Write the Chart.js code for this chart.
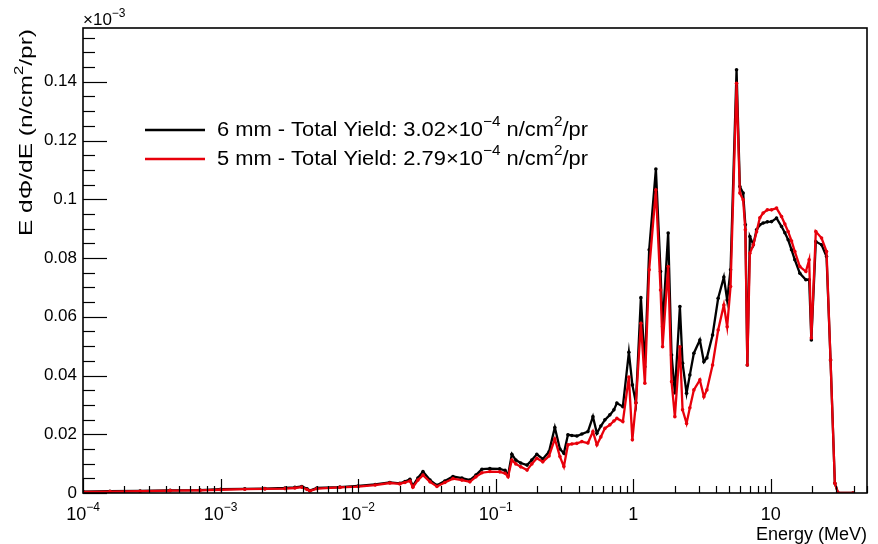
<!DOCTYPE html>
<html>
<head>
<meta charset="utf-8">
<script src="https://cdn.jsdelivr.net/npm/chart.js@4.4.0/dist/chart.umd.min.js"></script>
<style>
  html, body { margin: 0; padding: 0; background: #fff; }
</style>
</head>
<body>
<canvas id="spectrum" width="878" height="544"></canvas>
<script>
// Neutron spectrum, E dPhi/dE (x1e-3 n/cm2/pr) vs energy (MeV)
const energies = [1.0e-4, 1.57e-4, 2.6e-4, 4.3e-4, 7.1e-4, 1.0e-3, 1.5e-3, 2.1e-3, 2.94e-3, 3.47e-3,
  3.9e-3, 4.25e-3, 4.46e-3, 5.02e-3, 7.37e-3, 1.0e-2, 1.33e-2, 1.70e-2, 2.01e-2, 2.19e-2,
  2.38e-2, 2.50e-2, 2.72e-2, 2.96e-2, 3.33e-2, 3.74e-2, 4.27e-2, 4.89e-2, 5.68e-2, 6.49e-2,
  7.18e-2, 7.94e-2, 9.07e-2, 0.107, 0.117, 0.123, 0.131, 0.140, 0.152, 0.169,
  0.183, 0.199, 0.220, 0.244, 0.269, 0.293, 0.313, 0.335, 0.358, 0.389,
  0.423, 0.468, 0.509, 0.544, 0.581, 0.622, 0.676, 0.723, 0.760, 0.840,
  0.929, 0.985, 1.045, 1.136, 1.214, 1.305, 1.460, 1.579, 1.633, 1.793,
  1.898, 2.006, 2.182, 2.282, 2.440, 2.578, 2.757, 3.048, 3.260, 3.427,
  3.771, 4.140, 4.554, 4.813, 5.095, 5.633, 5.953, 6.290, 6.527, 6.749,
  7.038, 7.461, 7.872, 8.319, 8.790, 9.432, 10.12, 11.00, 11.96, 12.64,
  13.36, 14.14, 14.94, 16.25, 17.97, 18.99, 19.70, 21.23, 23.37, 25.40,
  27.16, 29.19, 30.84, 39.63];

const flux6mm = [0.0005, 0.0006, 0.0007, 0.0009, 0.0010, 0.0013, 0.0014, 0.0015, 0.0017, 0.0019,
  0.0022, 0.0014, 0.0008, 0.0017, 0.0020, 0.0024, 0.0029, 0.0036, 0.0033, 0.0039,
  0.0047, 0.0024, 0.0051, 0.0073, 0.0044, 0.0026, 0.0041, 0.0056, 0.0051, 0.0044,
  0.0061, 0.0081, 0.0083, 0.0082, 0.0077, 0.0061, 0.0132, 0.0112, 0.0102, 0.0095,
  0.0112, 0.0132, 0.0116, 0.0140, 0.0223, 0.0150, 0.0135, 0.0198, 0.0196, 0.0194,
  0.0201, 0.0209, 0.0260, 0.0203, 0.0228, 0.0249, 0.0266, 0.0283, 0.0306, 0.0294,
  0.0479, 0.0368, 0.0307, 0.0665, 0.0430, 0.0828, 0.1103, 0.0754, 0.0566, 0.0885,
  0.0470, 0.0341, 0.0635, 0.0442, 0.0340, 0.0402, 0.0476, 0.0521, 0.0447, 0.0460,
  0.0538, 0.0663, 0.0735, 0.0657, 0.0760, 0.1441, 0.1043, 0.1021, 0.0913, 0.0436,
  0.0873, 0.0845, 0.0896, 0.0913, 0.0919, 0.0923, 0.0924, 0.0936, 0.0907, 0.0886,
  0.0862, 0.0828, 0.0794, 0.0748, 0.0726, 0.0726, 0.0521, 0.0856, 0.0845, 0.0805,
  0.0453, 0.0033, 0, 0];

const flux5mm = [0.0004, 0.0005, 0.0006, 0.0008, 0.0009, 0.0011, 0.0013, 0.0014, 0.0015, 0.0017,
  0.0020, 0.0012, 0.0007, 0.0015, 0.0019, 0.0022, 0.0027, 0.0034, 0.0031, 0.0036,
  0.0041, 0.0020, 0.0044, 0.0061, 0.0038, 0.0022, 0.0036, 0.0049, 0.0044, 0.0038,
  0.0055, 0.0069, 0.0073, 0.0072, 0.0067, 0.0055, 0.0112, 0.0099, 0.0089, 0.0078,
  0.0099, 0.0118, 0.0106, 0.0126, 0.0184, 0.0124, 0.0090, 0.0164, 0.0167, 0.0169,
  0.0175, 0.0170, 0.0209, 0.0164, 0.0191, 0.0220, 0.0232, 0.0245, 0.0254, 0.0243,
  0.0395, 0.0181, 0.0306, 0.0578, 0.0374, 0.0760, 0.1032, 0.0691, 0.0498, 0.0771,
  0.0379, 0.0260, 0.0498, 0.0283, 0.0237, 0.0290, 0.0351, 0.0385, 0.0328, 0.0351,
  0.0436, 0.0555, 0.0640, 0.0566, 0.0703, 0.1395, 0.1021, 0.0998, 0.0896, 0.0436,
  0.0816, 0.0845, 0.0889, 0.0937, 0.0953, 0.0964, 0.0964, 0.0970, 0.0941, 0.0916,
  0.0890, 0.0858, 0.0822, 0.0771, 0.0754, 0.0794, 0.0528, 0.0890, 0.0868, 0.0822,
  0.0453, 0.0033, 0, 0];

const yTickValues = [0, 0.02, 0.04, 0.06, 0.08, 0.1, 0.12, 0.14];
const yTickLabels = ['0', '0.02', '0.04', '0.06', '0.08', '0.1', '0.12', '0.14'];
const xDecades = [1e-4, 1e-3, 1e-2, 1e-1, 1, 10];
const xDecadeLabels = [['10', '\u22124'], ['10', '\u22123'], ['10', '\u22122'], ['10', '\u22121'], ['1', ''], ['10', '']];

const legendItems = [
  { color: '#000000', parts: [{ t: '6 mm - Total Yield: 3.02\u00d710' }, { t: '\u22124', sup: true }, { t: ' n/cm' }, { t: '2', sup: true }, { t: '/pr' }] },
  { color: '#e8000b', parts: [{ t: '5 mm - Total Yield: 2.79\u00d710' }, { t: '\u22124', sup: true }, { t: ' n/cm' }, { t: '2', sup: true }, { t: '/pr' }] }
];

const FONT = "'Liberation Sans', Arial, sans-serif";
const Y_MAX = 0.1583;
const X_MIN = 1e-4, X_MAX = 50;

// text with superscripts, drawn piece by piece; fitWidth stretches it along the baseline
function drawRich(ctx, parts, x, y, size, align, fitWidth) {
  const big = size + 'px ' + FONT;
  const small = Math.round(size * 0.68) + 'px ' + FONT;
  const widths = parts.map(p => { ctx.font = p.sup ? small : big; return ctx.measureText(p.t).width; });
  const raw = widths.reduce((a, b) => a + b, 0);
  const sx = fitWidth ? fitWidth / raw : 1;
  const total = raw * sx;
  let startX = align === 'right' ? x - total : align === 'center' ? x - total / 2 : x;
  ctx.save();
  ctx.translate(startX, y);
  ctx.scale(sx, 1);
  ctx.textAlign = 'left';
  ctx.textBaseline = 'middle';
  let cx = 0;
  parts.forEach((p, i) => {
    ctx.font = p.sup ? small : big;
    ctx.fillText(p.t, cx, p.sup ? -size * 0.4 : 0);
    cx += widths[i];
  });
  ctx.restore();
}

// ROOT-like frame: inner ticks, box, labels, legend
const rootFrame = {
  id: 'rootFrame',
  afterDraw(chart) {
    const { ctx, chartArea: a, scales: { x, y } } = chart;
    ctx.save();
    ctx.strokeStyle = '#000';
    ctx.fillStyle = '#000';

    // y ticks (major 0.02, minor 0.005)
    ctx.lineWidth = 1.2;
    for (let k = 0; k * 0.005 <= Y_MAX; k++) {
      const py = Math.round(y.getPixelForValue(k * 0.005)) + 0.5;
      const len = k % 4 === 0 ? 24 : 12;
      ctx.beginPath(); ctx.moveTo(a.left, py); ctx.lineTo(a.left + len, py); ctx.stroke();
    }
    // x ticks (decades major, 2..9 minor)
    xDecades.forEach(d => {
      for (let m = 1; m <= 9; m++) {
        const v = d * m;
        if (v > X_MAX) break;
        const px = Math.round(x.getPixelForValue(v)) + 0.5;
        const len = m === 1 ? 14 : 7;
        ctx.beginPath(); ctx.moveTo(px, a.bottom); ctx.lineTo(px, a.bottom - len); ctx.stroke();
      }
    });

    // frame
    ctx.lineWidth = 1.6;
    ctx.strokeRect(a.left, a.top, a.right - a.left, a.bottom - a.top);

    // x tick labels
    xDecades.forEach((d, i) => {
      const [base, exp] = xDecadeLabels[i];
      const parts = exp ? [{ t: base }, { t: exp, sup: true }] : [{ t: base }];
      drawRich(ctx, parts, x.getPixelForValue(d), a.bottom + 22, 18, 'center');
    });

    // axis titles
    drawRich(ctx, [{ t: 'Energy (MeV)' }], a.right, a.bottom + 42, 18, 'right');
    drawRich(ctx, [{ t: '\u00d710' }, { t: '\u22123', sup: true }], a.left, 20, 17, 'left');
    ctx.save();
    ctx.translate(27, 29);
    ctx.rotate(-Math.PI / 2);
    drawRich(ctx, [{ t: 'E d\u03a6/dE (n/cm' }, { t: '2', sup: true }, { t: '/pr)' }], 0, 0, 19, 'right', 207);
    ctx.restore();

    // legend
    legendItems.forEach((item, i) => {
      const ly = 130 + i * 29;
      ctx.strokeStyle = item.color;
      ctx.lineWidth = 2.5;
      ctx.beginPath(); ctx.moveTo(145, ly); ctx.lineTo(205, ly); ctx.stroke();
      ctx.fillStyle = '#000';
      drawRich(ctx, item.parts, 217, ly, 20, 'left', 371);
    });
    ctx.restore();
  }
};

const toPoints = vals => energies.map((e, i) => ({ x: e, y: vals[i] }));

new Chart(document.getElementById('spectrum'), {
  type: 'line',
  data: {
    datasets: [
      {
        label: '6 mm',
        data: toPoints(flux6mm),
        borderColor: '#000000',
        backgroundColor: '#000000',
        borderWidth: 2.3,
        pointRadius: 1.8,
        pointBorderWidth: 0,
        order: 2
      },
      {
        label: '5 mm',
        data: toPoints(flux5mm),
        borderColor: '#e8000b',
        backgroundColor: '#e8000b',
        borderWidth: 2.3,
        pointRadius: 1.8,
        pointBorderWidth: 0,
        order: 1
      }
    ]
  },
  options: {
    responsive: false,
    devicePixelRatio: 1,
    animation: false,
    layout: { padding: { left: 0, right: 11, top: 28, bottom: 0 } },
    plugins: { legend: { display: false }, tooltip: { enabled: false } },
    scales: {
      x: {
        type: 'logarithmic',
        min: X_MIN,
        max: X_MAX,
        grid: { display: false },
        border: { display: false },
        ticks: { display: false },
        afterFit: s => { s.height = 51; }
      },
      y: {
        min: 0,
        max: Y_MAX,
        grid: { display: false, drawTicks: false },
        border: { display: false },
        afterBuildTicks: s => { s.ticks = yTickValues.map(v => ({ value: v })); },
        ticks: {
          color: '#000',
          padding: 6,
          font: { family: FONT, size: 17 },
          callback: (v, i) => yTickLabels[i]
        },
        afterFit: s => { s.width = 83; }
      }
    }
  },
  plugins: [rootFrame]
});
</script>
</body>
</html>
